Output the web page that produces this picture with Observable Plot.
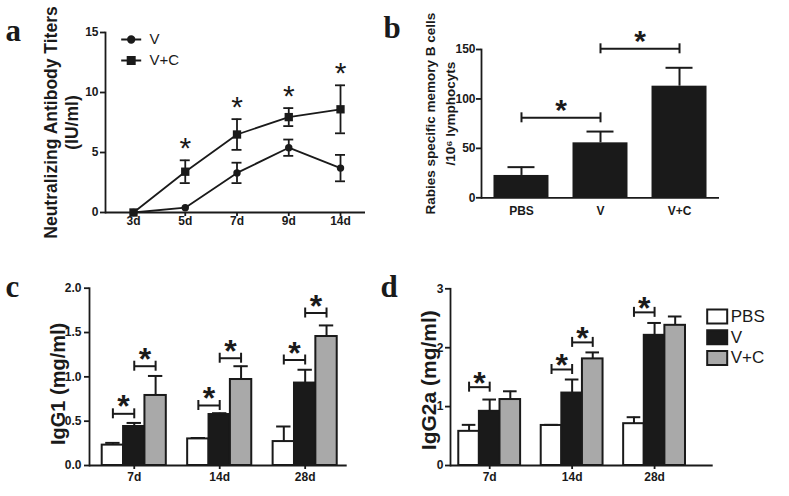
<!DOCTYPE html>
<html>
<head>
<meta charset="utf-8">
<script src="https://cdn.jsdelivr.net/npm/d3@7"></script>
<script src="https://cdn.jsdelivr.net/npm/@observablehq/plot@0.6"></script>
<style>
  html, body { margin: 0; padding: 0; background: #fff; }
  #fig { position: relative; width: 789px; height: 496px; overflow: hidden; background: #fff;
         font-family: Arial, "Liberation Sans", sans-serif; color: #1a1a1a; }
  .panel { position: absolute; }
</style>
</head>
<body>
<div id="fig"></div>
<script>
// ---------------- data ----------------
// panel a: neutralizing antibody titers (IU/ml)
const days = ["3d", "5d", "7d", "9d", "14d"];
const seriesA = ["V", "V+C"];
const titerV = [0, 0.4, 3.3, 5.4, 3.7];
const titerVErr = [0, 0, 0.85, 0.68, 1.1];
const titerVC = [0, 3.4, 6.5, 7.95, 8.6];
const titerVCErr = [0, 0.95, 1.28, 0.75, 2.0];
const starsA = ["5d", "7d", "9d", "14d"];
const titleA = "Neutralizing Antibody Titers\n(IU/ml)";
const ticksA = [0, 5, 10, 15];

// panel b: rabies specific memory B cells / 10^6 lymphocytes
const groupsB = ["PBS", "V", "V+C"];
const memoryB = [22.6, 55.6, 112.9];
const memoryBErr = [8.4, 11.4, 18.6];
const sigB = [["PBS", "V", 80.9], ["V", "V+C", 150.7]];
const titleB = "Rabies specific memory B cells\n/10\u2076 lymphocyts";
const ticksB = [0, 50, 100, 150];

// panels c & d: IgG1 / IgG2a (mg/ml)
const timepoints = ["7d", "14d", "28d"];
const treatments = ["PBS", "V", "V+C"];
const treatmentColors = ["#ffffff", "#1a1a1a", "#a9a9a9"];

const igg1PBS = [0.23, 0.30, 0.27];
const igg1PBSErr = [0.025, 0.01, 0.17];
const igg1V = [0.44, 0.575, 0.93];
const igg1VErr = [0.04, 0.015, 0.15];
const igg1VC = [0.79, 0.97, 1.455];
const igg1VCErr = [0.22, 0.15, 0.125];
const sigC = [
  ["7d", "PBS", "V", 0.583], ["7d", "V", "V+C", 1.12],
  ["14d", "PBS", "V", 0.677], ["14d", "V", "V+C", 1.21],
  ["28d", "PBS", "V", 1.19], ["28d", "V", "V+C", 1.72]
];
const titleC = "IgG1 (mg/ml)";
const ticksC = [0, 0.5, 1, 1.5, 2];

const igg2aPBS = [0.58, 0.68, 0.71];
const igg2aPBSErr = [0.11, 0.01, 0.11];
const igg2aV = [0.92, 1.23, 2.21];
const igg2aVErr = [0.2, 0.23, 0.21];
const igg2aVC = [1.12, 1.81, 2.38];
const igg2aVCErr = [0.14, 0.11, 0.15];
const sigD = [
  ["7d", "PBS", "V", 1.33],
  ["14d", "PBS", "V", 1.63], ["14d", "V", "V+C", 2.09],
  ["28d", "PBS", "V", 2.60]
];
const titleD = "IgG2a (mg/ml)";
const ticksD = [0, 1, 2, 3];

// ---------------- helpers ----------------
const INK = "#1a1a1a";
const SANS = "Arial, 'Liberation Sans', sans-serif";
const SERIF = "'Times New Roman', 'Liberation Serif', serif";
const baseStyle = {background: "none", overflow: "visible", fontFamily: SANS, color: INK};
const fig = document.getElementById("fig");

function place(svg, left, top) {
  const div = document.createElement("div");
  div.className = "panel";
  div.style.left = left + "px";
  div.style.top = top + "px";
  div.appendChild(svg);
  fig.appendChild(div);
}

const key = (g, s) => g + "|" + s;

function letter(t, dx, dy) {
  return Plot.text([t], {frameAnchor: "top-left", text: d => d, textAnchor: "start", lineAnchor: "bottom",
    dx, dy, fontSize: 31, fontWeight: "bold", fontFamily: SERIF, fill: INK});
}
function yTitle(t, dx, dy, fontSize, lineHeight = 1.3) {
  return Plot.text([t], {frameAnchor: "left", text: d => d, rotate: -90, textAnchor: "middle",
    lineAnchor: "middle", dx, dy, fontSize, fontWeight: "bold", lineHeight, fill: INK});
}
function bracketMarks(rows, {dxMid, starDy, fontSize}) {
  return [
    Plot.link(rows, {x1: "a", x2: "b", y1: "y", y2: "y", stroke: INK, strokeWidth: 2}),
    Plot.ruleX(rows, {x: "a", y1: "y", y2: "y", insetTop: -5, insetBottom: -5, stroke: INK, strokeWidth: 2}),
    Plot.ruleX(rows, {x: "b", y1: "y", y2: "y", insetTop: -5, insetBottom: -5, stroke: INK, strokeWidth: 2}),
    Plot.text(rows, {x: "a", y: "y", text: () => "*", dx: dxMid, dy: starDy, fontSize,
      fontWeight: "bold", lineAnchor: "bottom", fill: INK})
  ];
}

// ---------------- panel a ----------------
const rowsA = days.flatMap((d, i) => [
  {day: d, series: seriesA[0], value: titerV[i], err: titerVErr[i]},
  {day: d, series: seriesA[1], value: titerVC[i], err: titerVCErr[i]}
]);
const errA = rowsA.filter(d => d.err > 0);
const starRowsA = starsA.map(d => rowsA.find(r => r.day === d && r.series === seriesA[1]));

const glyphs = [
  {draw(ctx) { ctx.moveTo(-10, 0); ctx.lineTo(10, 0); ctx.moveTo(3.3, 0); ctx.arc(0, 0, 3.3, 0, 2 * Math.PI); }},
  {draw(ctx) { ctx.moveTo(-10, 0); ctx.lineTo(10, 0); ctx.rect(-3.6, -3.6, 7.2, 7.2); }}
];
const legendA = seriesA.flatMap((s, i) => [
  Plot.dot([s], {frameAnchor: "top-left", symbol: glyphs[i], fill: INK, stroke: INK, strokeWidth: 1.8,
    dx: 25.7, dy: 7 + 21 * i}),
  Plot.text([s], {frameAnchor: "top-left", text: d => d, textAnchor: "start", lineAnchor: "middle",
    dx: 44, dy: 7 + 21 * i, fontSize: 15, fill: INK})
]);

const plotA = Plot.plot({
  width: 390, height: 240,
  marginLeft: 105, marginRight: 25, marginTop: 32, marginBottom: 28,
  style: baseStyle,
  // narrow bands: band centres are the time points, band width is the error-cap width
  x: {type: "band", domain: days, paddingInner: 0.807, paddingOuter: 0.4155, align: 0.535, round: false},
  y: {domain: [0, 15]},
  marks: [
    Plot.frame({anchor: "left", stroke: INK, strokeWidth: 1.8}),
    Plot.ruleY([0], {stroke: INK, strokeWidth: 1.8}),
    Plot.axisY({ticks: ticksA, tickSize: 5, tickPadding: 2, fontSize: 12, fontWeight: "bold", label: null, strokeWidth: 1.8}),
    Plot.axisX({tickSize: 4, tickPadding: 0, fontSize: 12, fontWeight: "bold", label: null, strokeWidth: 1.8}),
    Plot.lineY(rowsA, {x: "day", y: "value", z: "series", stroke: INK, strokeWidth: 1.8}),
    Plot.ruleX(errA, {x: "day", y1: d => d.value - d.err, y2: d => d.value + d.err, stroke: INK, strokeWidth: 1.8}),
    Plot.tickY(errA, {x: "day", y: d => d.value - d.err, stroke: INK, strokeWidth: 1.8}),
    Plot.tickY(errA, {x: "day", y: d => d.value + d.err, stroke: INK, strokeWidth: 1.8}),
    Plot.dot(rowsA.filter(d => d.series === seriesA[0]), {x: "day", y: "value", symbol: "circle", r: 3.7, fill: INK}),
    Plot.dot(rowsA.filter(d => d.series === seriesA[1]), {x: "day", y: "value", symbol: "square", r: 4.7, fill: INK}),
    Plot.text(starRowsA, {x: "day", y: d => d.value + d.err, text: () => "*", dy: -2.5, fontSize: 30,
      lineAnchor: "bottom", fill: INK}),
    ...legendA,
    yTitle(titleA, -45, 0, 17.5, 1.25),
    letter("a", -100, 8)
  ]
});
place(plotA, 0, 0);

// ---------------- panel b ----------------
const rowsB = groupsB.map((g, i) => ({group: g, value: memoryB[i], err: memoryBErr[i]}));
const sigRowsB = sigB.map(([a, b, y]) => ({a, b, y}));

const plotB = Plot.plot({
  width: 409, height: 240,
  marginLeft: 101, marginRight: 70, marginTop: 49, marginBottom: 42.7,
  style: baseStyle,
  x: {type: "band", domain: groupsB, paddingInner: 0.304, paddingOuter: 0.158, round: false},
  y: {domain: [0, 150]},
  marks: [
    Plot.barY(rowsB, {x: "group", y: "value", fill: INK}),
    Plot.ruleX(rowsB, {x: "group", y1: "value", y2: d => d.value + d.err, stroke: INK, strokeWidth: 2}),
    Plot.tickY(rowsB, {x: "group", y: d => d.value + d.err, insetLeft: 14, insetRight: 14, stroke: INK, strokeWidth: 2}),
    Plot.frame({anchor: "left", stroke: INK, strokeWidth: 1.8}),
    Plot.ruleY([0], {stroke: INK, strokeWidth: 1.8}),
    Plot.axisY({ticks: ticksB, tickSize: 5, tickPadding: 1, fontSize: 12, fontWeight: "bold", label: null, strokeWidth: 1.8}),
    Plot.axisX({tickSize: 0, tickPadding: 9, fontSize: 12, fontWeight: "bold", label: null}),
    ...bracketMarks(sigRowsB, {dxMid: 39.5, starDy: 2.4, fontSize: 30}),
    yTitle(titleB, -43, -10, 13.5, 1.48),
    letter("b", -98, -12)
  ]
});
place(plotB, 380, 0);

// ---------------- panels c & d ----------------
function groupedDomain() {
  return timepoints.flatMap((g, i) => [
    ...treatments.map(s => key(g, s)),
    ...(i < timepoints.length - 1 ? ["gap" + i] : [])
  ]);
}
function groupedRows(vals, errs) {
  return timepoints.flatMap((g, i) => treatments.map((s, j) => ({
    key: key(g, s), group: g, series: s, value: vals[j][i], err: errs[j][i]
  })));
}
function barPanel({rows, sig, yDomain, yTicks, yFormat, width, height, margins, xPad, capInset,
                   dxMid, starDy, title, titleDx, titleDy, titleSize, letterText, letterDx, letterDy, legend, tickPad}) {
  const sigRows = sig.map(([g, a, b, y]) => ({a: key(g, a), b: key(g, b), y}));
  const legendMarks = legend ? treatments.flatMap((t, i) => [
    Plot.dot([t], {frameAnchor: "top-right", fill: d => d, stroke: INK, strokeWidth: 2,
      symbol: {draw(ctx) { ctx.rect(-10, -7, 20, 14); }}, dx: 4, dy: 27.7 + 20.7 * i}),
    Plot.text([t], {frameAnchor: "top-right", text: d => d, textAnchor: "start", lineAnchor: "middle",
      dx: 17.5, dy: 27.7 + 20.7 * i, fontSize: 17, fill: INK})
  ]) : [];
  return Plot.plot({
    width, height, ...margins,
    style: baseStyle,
    x: {type: "band", domain: groupedDomain(), paddingInner: 0, ...xPad, round: false},
    y: {domain: yDomain},
    color: {domain: treatments, range: treatmentColors},
    marks: [
      Plot.barY(rows, {x: "key", y: "value", fill: "series", stroke: INK, strokeWidth: 2}),
      Plot.ruleX(rows, {x: "key", y1: "value", y2: d => d.value + d.err, stroke: INK, strokeWidth: 2}),
      Plot.tickY(rows, {x: "key", y: d => d.value + d.err, insetLeft: capInset, insetRight: capInset, stroke: INK, strokeWidth: 2}),
      Plot.frame({anchor: "left", stroke: INK, strokeWidth: 1.8}),
      Plot.ruleY([0], {stroke: INK, strokeWidth: 1.8}),
      Plot.axisY({ticks: yTicks, tickFormat: yFormat, tickSize: 5, tickPadding: tickPad, fontSize: 12,
        fontWeight: "bold", label: null, strokeWidth: 1.8}),
      Plot.axisX({ticks: timepoints.map(g => key(g, treatments[1])), tickFormat: k => k.split("|")[0],
        tickSize: 4, tickPadding: 2.5, fontSize: 12, fontWeight: "bold", label: null, strokeWidth: 1.8}),
      ...bracketMarks(sigRows, {dxMid, starDy, fontSize: 32}),
      ...legendMarks,
      yTitle(title, titleDx, titleDy, titleSize),
      letter(letterText, letterDx, letterDy)
    ]
  });
}

const plotC = barPanel({
  rows: groupedRows([igg1PBS, igg1V, igg1VC], [igg1PBSErr, igg1VErr, igg1VCErr]),
  sig: sigC, yDomain: [0, 2], yTicks: ticksC, yFormat: d3.format(".1f"),
  width: 390, height: 236,
  margins: {marginLeft: 89, marginRight: 43.3, marginTop: 27.7, marginBottom: 31},
  xPad: {paddingOuter: 0.531, align: 0.56}, capInset: 3.5,
  dxMid: 10.7, starDy: 3.6,
  title: titleC, titleDx: -33, titleDy: 7, titleSize: 20,
  letterText: "c", letterDx: -84, letterDy: 8.3, legend: false, tickPad: 3
});
place(plotC, 0, 260);

const plotD = barPanel({
  rows: groupedRows([igg2aPBS, igg2aV, igg2aVC], [igg2aPBSErr, igg2aVErr, igg2aVCErr]),
  sig: sigD, yDomain: [0, 3], yTicks: ticksD, yFormat: d3.format("d"),
  width: 409, height: 236,
  margins: {marginLeft: 70, marginRight: 76.3, marginTop: 28.3, marginBottom: 31},
  xPad: {paddingOuter: 0.873, align: 0.23}, capInset: 3.5,
  dxMid: 10.3, starDy: 6.6,
  title: titleD, titleDx: -23, titleDy: 3, titleSize: 21,
  letterText: "d", letterDx: -70, letterDy: 8, legend: true, tickPad: 2
});
place(plotD, 380, 260);
</script>
</body>
</html>
